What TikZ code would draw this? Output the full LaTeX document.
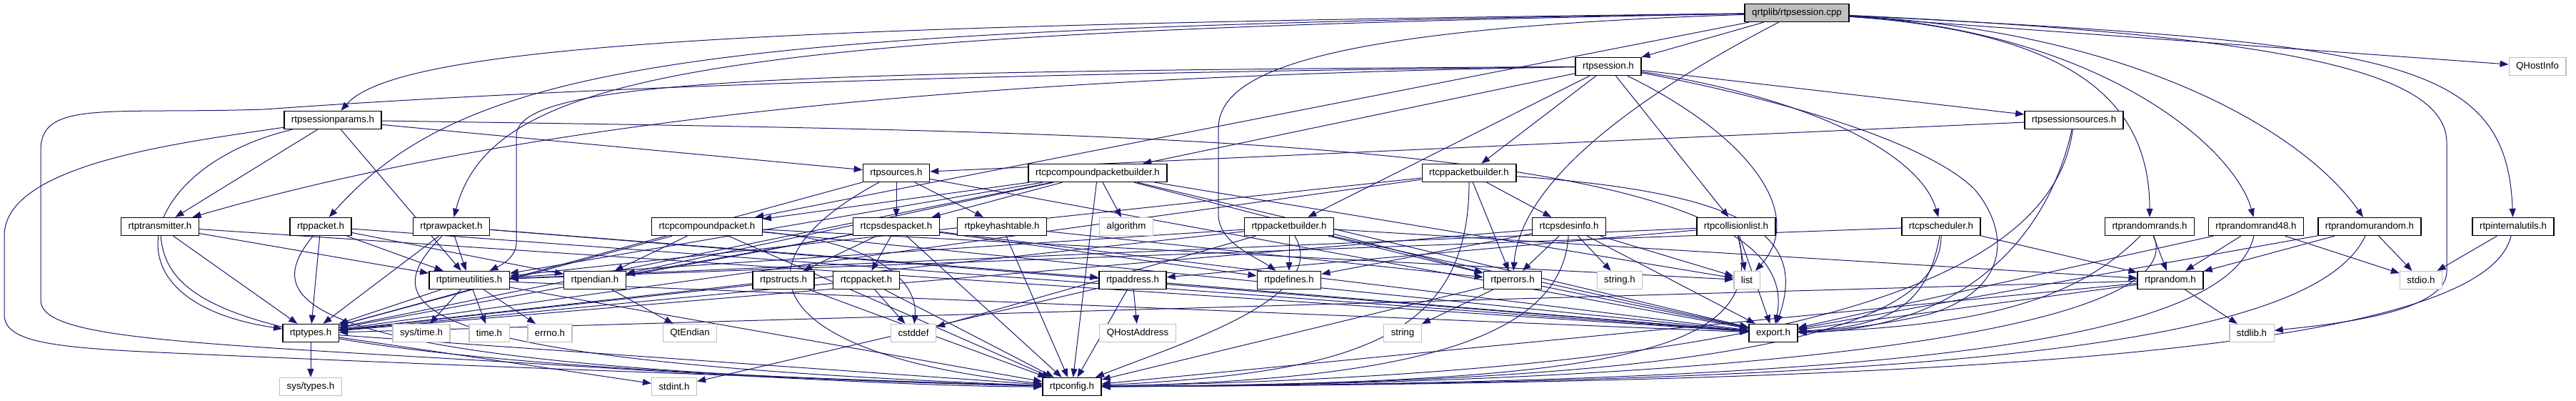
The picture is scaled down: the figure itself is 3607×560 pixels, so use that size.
\documentclass[tikz,border=0pt]{standalone}
\usepackage{fontspec}
\setmainfont{Liberation Sans}
\usetikzlibrary{arrows.meta}
\pgfdeclarelayer{background}
\pgfsetlayers{background,main}
\definecolor{edgec}{HTML}{191970}
\definecolor{grayb}{HTML}{BFBFBF}
\begin{document}
\begin{tikzpicture}[x=1pt,y=-1pt,
  box/.style={draw=black,line width=1.4pt,fill=white,minimum height=25pt,inner xsep=10pt,inner ysep=0pt,font=\fontsize{13.3}{15}\selectfont},
  sysbox/.style={box,draw=grayb,line width=1.2pt},
  rootbox/.style={box,fill=grayb},
  e/.style={draw=edgec,line width=1pt,-{Triangle[length=12pt,width=9pt]}}]
\useasboundingbox (0,0) rectangle (3607,560);
% row 0
\node[rootbox] (root) at (2516,18) {qrtplib/rtpsession.cpp};
% row 1
\node[box] (sess) at (2252,93) {rtpsession.h};
\node[sysbox] (qhi) at (3553,93) {QHostInfo};
% row 2
\node[box] (sparams) at (466,168) {rtpsessionparams.h};
\node[box] (ssrc) at (2904,168) {rtpsessionsources.h};
% row 3
\node[box] (srcs) at (1255,242) {rtpsources.h};
\node[box] (ccpb) at (1537,242) {rtcpcompoundpacketbuilder.h};
\node[box] (cpb) at (2057,242) {rtcppacketbuilder.h};
% row 4
\node[box] (trans) at (224,317) {rtptransmitter.h};
\node[box] (pkt) at (449,317) {rtppacket.h};
\node[box] (raw) at (632,317) {rtprawpacket.h};
\node[box] (ccp) at (990,317) {rtcpcompoundpacket.h};
\node[box] (sdesp) at (1255,317) {rtcpsdespacket.h};
\node[box] (khash) at (1403,317) {rtpkeyhashtable.h};
\node[sysbox] (algo) at (1577,317) {algorithm};
\node[box] (pb) at (1805,317) {rtppacketbuilder.h};
\node[box] (sdesi) at (2197,317) {rtcpsdesinfo.h};
\node[box] (coll) at (2431,317) {rtpcollisionlist.h};
\node[box] (sched) at (2718,317) {rtcpscheduler.h};
\node[box] (rrands) at (3010,317) {rtprandomrands.h};
\node[box] (rr48) at (3159,317) {rtprandomrand48.h};
\node[box] (rurand) at (3318,317) {rtprandomurandom.h};
\node[box] (iutils) at (3519,317) {rtpinternalutils.h};
% row 5
\node[box] (tu) at (657,392) {rtptimeutilities.h};
\node[box] (endian) at (833,392) {rtpendian.h};
\node[box] (structs) at (1097,392) {rtpstructs.h};
\node[box] (cp) at (1213,392) {rtcppacket.h};
\node[box] (addr) at (1586,392) {rtpaddress.h};
\node[box] (defs) at (1805,392) {rtpdefines.h};
\node[box] (errs) at (2118,392) {rtperrors.h};
\node[sysbox] (strh) at (2268,392) {string.h};
\node[sysbox] (list) at (2446,392) {list};
\node[box] (rand) at (3039,392) {rtprandom.h};
\node[sysbox] (stdio) at (3390,392) {stdio.h};
% row 6
\node[box] (types) at (435,466) {rtptypes.h};
\node[sysbox] (systime) at (590,466) {sys/time.h};
\node[sysbox] (timeh) at (685,466) {time.h};
\node[sysbox] (errno) at (770,466) {errno.h};
\node[sysbox] (qtend) at (966,466) {QtEndian};
\node[sysbox] (cstddef) at (1279,466) {cstddef};
\node[sysbox] (qha) at (1593,466) {QHostAddress};
\node[sysbox] (string) at (1964,466) {string};
\node[box] (export) at (2483,466) {export.h};
\node[sysbox] (stdlib) at (3153,466) {stdlib.h};
% row 7
\node[sysbox] (systypes) at (435,541) {sys/types.h};
\node[sysbox] (stdint) at (944,541) {stdint.h};
\node[box] (config) at (1501,541) {rtpconfig.h};

\begin{pgfonlayer}{background}
\fill[white] (0,0) rectangle (3607,560);
\foreach \p/\q in {root/sess, root/ccp, root/qhi,
  sess/ccpb, sess/pb, sess/cpb, sess/coll, sess/ssrc,
  sparams/trans, sparams/tu, sparams/srcs,
  trans/types, trans/tu, trans/export,
  pkt/types, pkt/tu, pkt/endian, pkt/export,
  raw/types, raw/tu, raw/addr, raw/export,
  ccp/config, ccp/types, ccp/endian, ccp/list, ccp/export,
  sdesp/structs, sdesp/cp, sdesp/config, sdesp/endian, sdesp/defs, sdesp/export, sdesp/types,
  srcs/sdesp, srcs/khash, srcs/types, srcs/export,
  khash/config, khash/errs,
  ccpb/ccp, ccpb/sdesp, ccpb/algo, ccpb/config, ccpb/tu, ccpb/errs, ccpb/endian, ccpb/types, ccpb/list, ccpb/export,
  cpb/sdesi, cpb/errs, cpb/types, cpb/tu,
  pb/defs, pb/errs, pb/rand, pb/tu, pb/types, pb/export, pb/cstddef,
  sdesi/errs, sdesi/strh, sdesi/list, sdesi/export, sdesi/defs, sdesi/types,
  coll/addr, coll/list, coll/export, coll/tu,
  sched/rand, sched/tu,
  rrands/rand,
  rr48/rand, rr48/stdio, rr48/export,
  rurand/rand, rurand/stdio, rurand/export,
  iutils/stdio,
  ssrc/srcs,
  tu/systime, tu/timeh, tu/errno, tu/types, tu/config, tu/export,
  endian/qtend,
  structs/types, structs/config,
  cp/cstddef, cp/config, cp/types,
  addr/qha, addr/config, addr/stdint, addr/export,
  errs/string, errs/config, errs/export,
  rand/stdlib, rand/config, rand/types, rand/export,
  types/systypes, types/stdint, types/config}
  \draw[e] (\p) -- (\q);
% curved edges from the root
\draw[e] (root) .. controls (1100,35) and (560,60) .. (sparams);
\draw[e] (root) .. controls (1000,40) and (660,80) .. (pkt);
\draw[e] (root) .. controls (1000,45) and (690,100) .. (raw);
\draw[e] (root) .. controls (1850,40) and (1706,100) .. (1706,180) -- (1706,300) .. controls (1706,340) and (1760,360) .. (defs);
\draw[e] (root) .. controls (2300,130) and (2130,250) .. (errs);
\draw[e] (root) .. controls (2900,45) and (3010,140) .. (rrands);
\draw[e] (root) .. controls (2950,45) and (3130,210) .. (rr48);
\draw[e] (root) .. controls (3000,45) and (3230,190) .. (rurand);
\draw[e] (root) .. controls (3350,60) and (3510,80) .. (iutils);
\draw[e] (root) .. controls (3200,50) and (3426,100) .. (3426,200) -- (3426,380) .. controls (3426,440) and (3250,455) .. (stdlib);
% curved edges from rtpsession.h
\draw[e] (sess) .. controls (1100,100) and (723,110) .. (723,190) -- (723,340) .. controls (723,360) and (700,372) .. (tu);
\draw[e] (sess) .. controls (1500,105) and (800,150) .. (trans);
\draw[e] (sess) .. controls (1600,100) and (900,115) .. (370,153) .. controls (150,160) and (57,140) .. (57,210) -- (57,420) .. controls (57,480) and (300,480) .. (900,518) .. controls (1200,535) and (1350,541) .. (config);
\draw[e] (sess) .. controls (2450,190) and (2530,300) .. (list);
\draw[e] (sess) .. controls (2500,140) and (2700,200) .. (2765,265) .. controls (2815,325) and (2815,405) .. (2700,440) .. controls (2620,458) and (2560,462) .. (export);
\draw[e] (sess) .. controls (2550,140) and (2690,220) .. (sched);
% curved edges from rtpsessionparams.h
\draw[e] (sparams) .. controls (200,230) and (130,420) .. (types);
\draw[e] (sparams) .. controls (250,200) and (6,230) .. (6,330) -- (6,440) .. controls (6,475) and (60,485) .. (200,492) .. controls (700,515) and (1300,535) .. (config);
\draw[e] (sparams) .. controls (1600,185) and (2540,190) .. (export);
% other curved edges
\draw[e] (cpb) .. controls (2450,270) and (2530,330) .. (export);
\draw[e] (sched) .. controls +(-20,120) and +(150,-10) .. (export);
\draw[e] (rrands) .. controls +(-100,100) and +(300,-10) .. (export);
\draw[e] (ssrc) .. controls +(-40,180) and +(250,-5) .. (export);
\draw[e] (trans) .. controls (235,450) and (400,510) .. (config);
\draw[e] (pkt) .. controls (365,420) and (380,515) .. (config);
\draw[e] (raw) .. controls (520,430) and (560,505) .. (config);
\draw[e] (ccp) .. controls (1240,340) and (1285,400) .. (cstddef);
\draw[e] (srcs) .. controls (1000,380) and (1100,500) .. (config);
\draw[e] (cpb) .. controls +(0,230) and +(400,-20) .. (config);
\draw[e] (pb) .. controls +(60,100) and +(150,-60) .. (config);
\draw[e] (sdesi) .. controls +(-10,150) and +(500,-10) .. (config);
\draw[e] (coll) .. controls +(40,170) and +(800,-5) .. (config);
\draw[e] (sched) .. controls +(0,150) and +(900,-5) .. (config);
\draw[e] (rrands) .. controls +(60,140) and +(1000,-5) .. (config);
\draw[e] (rr48) .. controls +(-40,170) and +(1100,-5) .. (config);
\draw[e] (rurand) .. controls +(-80,170) and +(1200,-5) .. (config);
\draw[e] (iutils) .. controls +(-40,170) and +(1300,-5) .. (config);
\draw[e] (ssrc) .. controls +(-30,230) and +(1000,-20) .. (config);
\end{pgfonlayer}
\end{tikzpicture}
\end{document}
